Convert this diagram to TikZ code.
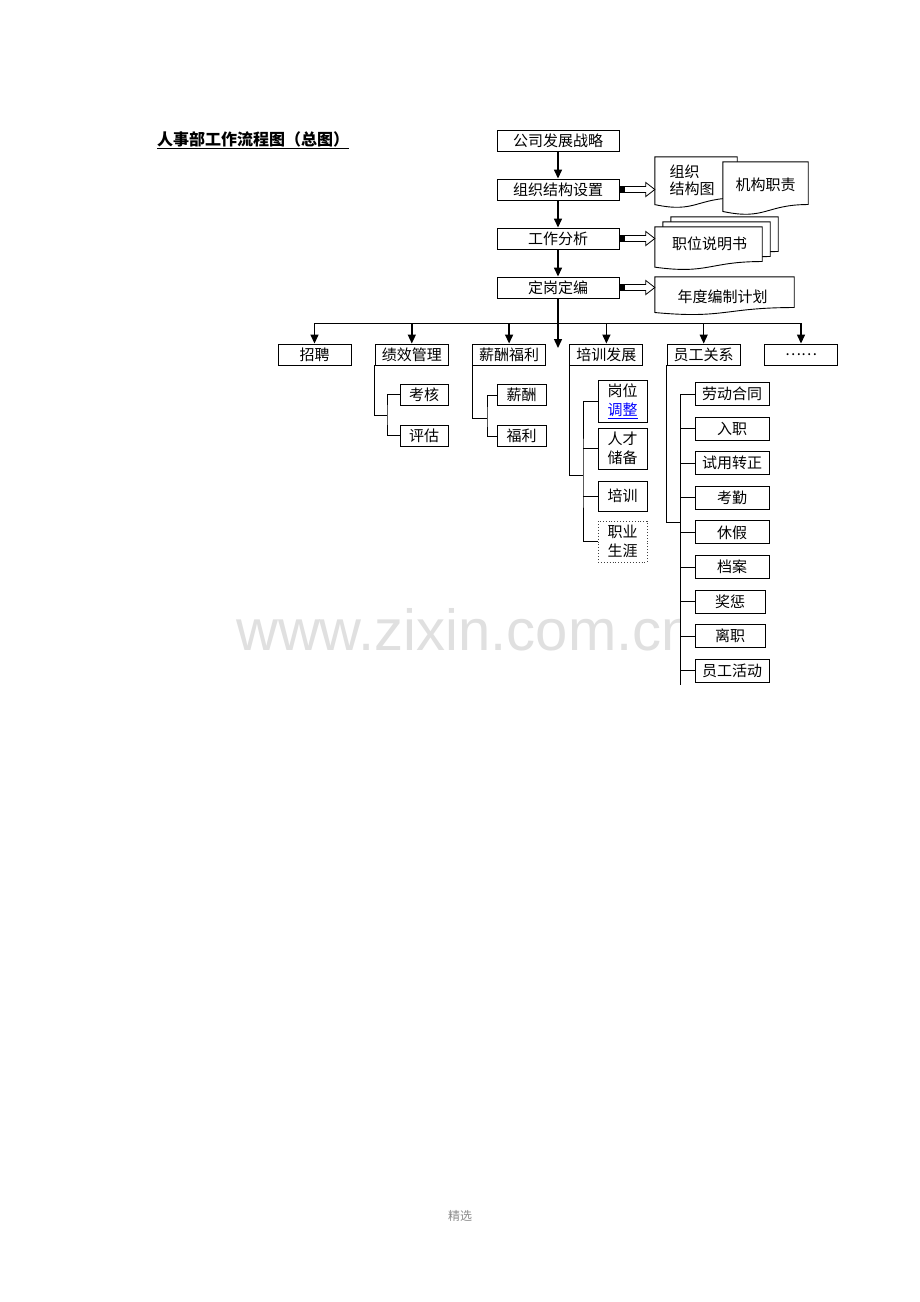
\documentclass[tikz,border=0pt]{standalone}
\usepackage{fontspec}
\newfontfamily\cjk{Noto Sans CJK SC}
\newfontfamily\wmfont{Liberation Sans}
\usetikzlibrary{positioning,calc,arrows.meta}

% document outline with a wavy bottom edge
\newcommand{\docoutline}[1]{%
  \draw[line width=0.9pt, fill=white] let \p1=(#1.north west), \p2=(#1.south east), \n1={\y1-\y2}, \n2={(\x1+\x2)/2} in
    (\p1) -- (\x2,\y1) -- (\x2,{\y1-0.8*\n1}) .. controls (\n2,{\y1-0.8*\n1}) and (\n2,{\y1-1.1*\n1}) .. (\x1,{\y1-0.93*\n1}) -- cycle;}

% hollow arrow from a flow box to its document
\newcommand{\hollowarrow}[2]{%
  \fill ($(#1.east)+(0,-3.5)$) rectangle ++(5,7);
  \draw[line width=0.8pt, fill=white] ($(#1.east)+(5,3)$) -- ($(#1.east -| #2.west)+(-9,3)$) -- ++(0,4) -- (#1.east -| #2.west) -- ++(-9,-7) -- ++(0,4) -- ($(#1.east)+(5,-3)$) -- cycle;}

\begin{document}
\begin{tikzpicture}[x=1pt, y=1pt, node distance=49pt,
    every node/.style={font=\cjk\fontsize{15}{17}\selectfont},
    flow/.style={rectangle, draw, line width=0.9pt, fill=white, minimum width=122pt, minimum height=21pt, inner sep=0pt},
    dept/.style={rectangle, draw, line width=0.9pt, fill=white, minimum width=73pt, minimum height=21pt, inner sep=0pt},
    item/.style={rectangle, draw, line width=0.9pt, fill=white, minimum width=49pt, minimum height=21pt, inner sep=0pt, align=center, font=\cjk\fontsize{15}{19}\selectfont},
    relitem/.style={item, minimum width=74pt, minimum height=23pt},
    docbox/.style={inner sep=0pt},
    link/.style={line width=1pt},
    arr/.style={line width=1.4pt, -{Triangle[width=8pt,length=9pt]}}]

    \fill[white] (0,0) rectangle (920,-1302);
    \useasboundingbox (0,0) rectangle (920,-1302);

    % watermark
    \begin{scope}
        \clip (0,0) rectangle (679,-1302);
        \node[font=\wmfont\fontsize{58}{60}\selectfont, text=black!12, anchor=base west, inner sep=0pt] (wm) at (236,-650) {www.zixin.com.cn};
    \end{scope}

    \node[anchor=base west, inner sep=0pt, font=\cjk\bfseries\fontsize{16}{18}\selectfont] (title) at (157,-145) {\underline{人事部工作流程图（总图）}};

    % main flow
    \node[flow] (strategy) at (558,-140.5) {公司发展战略};
    \node[flow, below of=strategy] (structure) {组织结构设置};
    \node[flow, below of=structure] (analysis) {工作分析};
    \node[flow, below of=analysis] (staffing) {定岗定编};

    \draw[arr] (strategy) -- (structure);
    \draw[arr] (structure) -- (analysis);
    \draw[arr] (analysis) -- (staffing);

    % documents
    \node[docbox, minimum width=82pt, minimum height=51pt] (orgchart) at (696,-182.5) {};
    \docoutline{orgchart}
    \node[align=left] (orgtext) at (692,-180) {组织\\结构图};
    \node[docbox, minimum width=85pt, minimum height=53pt] (duties) at (765.5,-188.5) {};
    \docoutline{duties}
    \node (dutytext) at ($(duties)+(0,4)$) {机构职责};

    \node[docbox, minimum width=107pt, minimum height=43pt] (jobdesc3) at (724.5,-238.5) {};
    \docoutline{jobdesc3}
    \node[docbox, minimum width=107pt, minimum height=43pt] (jobdesc2) at (716.5,-243.5) {};
    \docoutline{jobdesc2}
    \node[docbox, minimum width=107pt, minimum height=43pt] (jobdesc) at (708.5,-248.5) {};
    \docoutline{jobdesc}
    \node (jobtext) at ($(jobdesc)+(1,5)$) {职位说明书};

    \node[docbox, minimum width=139pt, minimum height=38pt] (plan) at (724.5,-296) {};
    \docoutline{plan}
    \node (plantext) at ($(plan)+(-2,-1)$) {年度编制计划};

    \hollowarrow{structure}{orgchart}
    \hollowarrow{analysis}{jobdesc}
    \hollowarrow{staffing}{plan}

    % departments
    \node[dept] (recruit) at (314.5,-354.5) {招聘};
    \node[dept, right=23.4pt of recruit] (perf) {绩效管理};
    \node[dept, right=23.4pt of perf] (pay) {薪酬福利};
    \node[dept, right=23.4pt of pay] (train) {培训发展};
    \node[dept, right=23.4pt of train] (rel) {员工关系};
    \node[dept, right=23.4pt of rel] (more) {……};

    \coordinate (bus) at (558,-323);
    \coordinate (hub) at (558,-348);
    \draw[arr] (staffing) -- (hub);
    \draw[link] (bus -| recruit) -- (bus -| more);
    \draw[arr] (bus -| recruit) -- (recruit);
    \draw[arr] (bus -| perf) -- (perf);
    \draw[arr] (bus -| pay) -- (pay);
    \draw[arr] (bus -| train) -- (train);
    \draw[arr] (bus -| rel) -- (rel);
    \draw[arr] (bus -| more) -- (more);

    % performance
    \node[item, minimum width=48pt] (assess) at (424,-394.5) {考核};
    \node[item, minimum width=48pt, below=19.1pt of assess] (evaluate) {评估};
    \coordinate (perfjoin) at (387,-415);
    \draw[link] (perf.south west) |- (perfjoin);
    \draw[link] (assess) -| (perfjoin) |- (evaluate);

    % pay
    \node[item] (salary) at (521.5,-395) {薪酬};
    \node[item, below=19.1pt of salary] (welfare) {福利};
    \coordinate (payjoin) at (487,-418);
    \draw[link] (pay.south west) |- (payjoin);
    \draw[link] (salary) -| (payjoin) |- (welfare);

    % training
    \node[item, minimum height=42pt] (rotation) at (622.5,-401) {岗位\\\textcolor{blue}{\underline{调整}}};
    \node[item, minimum height=41pt, below=5.1pt of rotation] (talent) {人才\\储备};
    \node[item, minimum height=30pt, below=11.1pt of talent] (course) {培训};
    \node[item, minimum height=41pt, below=9.1pt of course, dotted, draw=black!75] (career) {职业\\生涯};
    \coordinate (trainjoin) at (583,-475);
    \draw[link] (train.south west) |- (trainjoin);
    \draw[link] (rotation) -| (trainjoin) |- (career);
    \draw[link] (talent) -- (talent -| trainjoin);
    \draw[link] (course) -- (course -| trainjoin);

    % employee relations
    \node[relitem] (contract) at (732,-394) {劳动合同};
    \node[relitem, below=10.7pt of contract] (onboard) {入职};
    \node[relitem, below=10.7pt of onboard] (probation) {试用转正};
    \node[relitem, below=10.7pt of probation] (attendance) {考勤};
    \node[relitem, below=10.7pt of attendance] (leave) {休假};
    \node[relitem, below=10.7pt of leave] (archive) {档案};
    \node[relitem, below=10.7pt of archive, minimum width=70pt, xshift=-2pt] (reward) {奖惩};
    \node[relitem, below=10.7pt of reward, minimum width=70pt] (resign) {离职};
    \node[relitem, below=10.7pt of resign, xshift=2pt] (activity) {员工活动};
    \coordinate (reljoin) at (680,-522);
    \coordinate (relend) at (680,-685);
    \draw[link] (rel.south west) |- (reljoin);
    \draw[link] (contract) -| (relend);
    \draw[link] (onboard) -- (onboard -| relend);
    \draw[link] (probation) -- (probation -| relend);
    \draw[link] (attendance) -- (attendance -| relend);
    \draw[link] (leave) -- (leave -| relend);
    \draw[link] (archive) -- (archive -| relend);
    \draw[link] (reward) -- (reward -| relend);
    \draw[link] (resign) -- (resign -| relend);
    \draw[link] (activity) -- (activity -| relend);

    \node[font=\cjk\fontsize{12}{14}\selectfont, text=black!45] (footer) at (460,-1216) {精选};
\end{tikzpicture}
\end{document}
